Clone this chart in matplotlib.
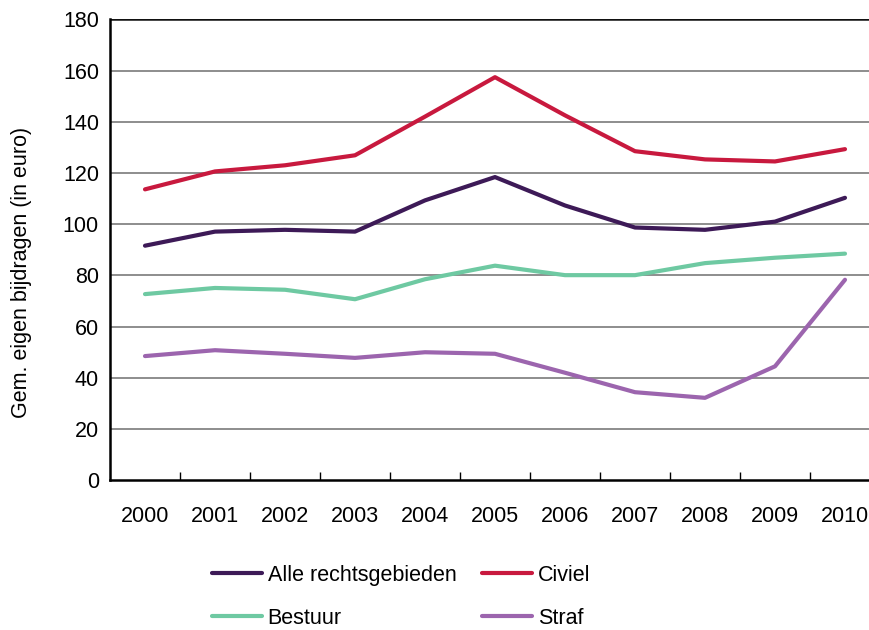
import matplotlib
matplotlib.use("Agg")
import matplotlib.pyplot as plt
import numpy as np

years = ["2000", "2001", "2002", "2003", "2004", "2005", "2006", "2007", "2008", "2009", "2010"]
alle = [91.6, 97.1, 97.8, 97.1, 109.3, 118.4, 107.3, 98.7, 97.8, 101.0, 110.3]
civiel = [113.6, 120.6, 123.0, 126.9, 142.0, 157.4, 142.5, 128.5, 125.3, 124.5, 129.3]
bestuur = [72.7, 75.1, 74.4, 70.7, 78.5, 83.8, 80.1, 80.1, 84.8, 86.9, 88.5]
straf = [48.5, 50.8, 49.4, 47.8, 50.0, 49.4, 42.0, 34.4, 32.2, 44.5, 78.3]

names = ["Alle rechtsgebieden", "Civiel", "Bestuur", "Straf"]
colors = ["#3d1a57", "#c8193e", "#6ec9a2", "#9c65ae"]
yticks = [0, 20, 40, 60, 80, 100, 120, 140, 160, 180]

plt.rcParams["font.family"] = ["Liberation Sans", "DejaVu Sans"]

fig = plt.figure(figsize=(8.7, 6.3), dpi=100)
ax = fig.add_axes([110/870, 1-480.3/630, 770/870, (480.3-19.3)/630])

x = np.arange(len(years))
for grid_v in yticks[1:-1]:
    ax.axhline(grid_v, color="#7a7a7a", lw=1.2, zorder=1)
ax.axhline(180, color="#111111", lw=1.8, zorder=1)

lines = {}
for name, vals, c in zip(names, [alle, civiel, bestuur, straf], colors):
    (ln,) = ax.plot(x, vals, color=c, lw=3.0, solid_capstyle="round", zorder=3, label=name)
    lines[name] = ln

ax.set_xlim(-0.5, 10.5)
ax.set_ylim(0, 180)
ax.set_yticks(yticks)
ax.set_yticklabels([str(v) for v in yticks], fontsize=15.5)
ax.tick_params(axis="y", length=0, pad=8)
ax.set_xticks(x)
ax.set_xticklabels(years, fontsize=15.5)
ax.set_xticks(np.arange(0.5, 10.5, 1), minor=True)
ax.tick_params(axis="x", which="major", length=0, pad=18.5)
ax.tick_params(axis="x", which="minor", direction="in", length=6, width=1, color="black")

for s in ["top", "right"]:
    ax.spines[s].set_visible(False)
ax.spines["left"].set_linewidth(1.8)
ax.spines["bottom"].set_linewidth(1.8)
ax.spines["left"].set_color("black")
ax.spines["bottom"].set_color("black")

fig.text(22/870, 1-272/630, "Gem. eigen bijdragen (in euro)", rotation=90,
         ha="center", va="center", fontsize=15.5)

order = ["Alle rechtsgebieden", "Bestuur", "Civiel", "Straf"]
leg = fig.legend([lines[n] for n in order], order, ncol=2, loc="upper left",
                 bbox_to_anchor=(212/870, 1-565/630), frameon=False, fontsize=15.5,
                 handlelength=2.33, handletextpad=0.25, columnspacing=1.2,
                 labelspacing=1.0, borderpad=0, borderaxespad=0)

fig.savefig("out.png", dpi=100)
